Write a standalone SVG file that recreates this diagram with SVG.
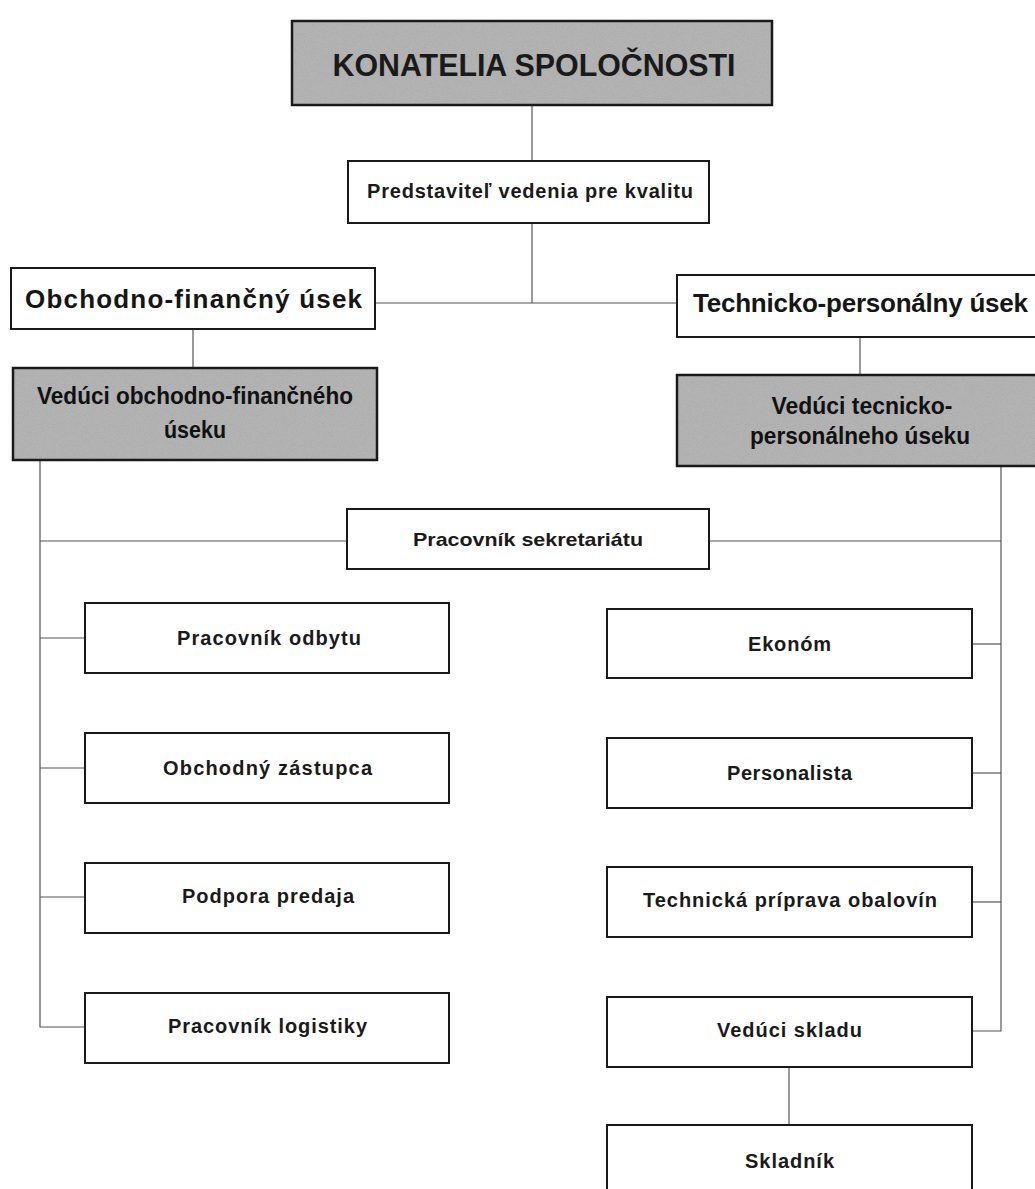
<svg xmlns="http://www.w3.org/2000/svg" width="1035" height="1189" viewBox="0 0 1035 1189">
<style>
.box{fill:#fff;stroke:#1a1a1a;stroke-width:2}
.gbox{fill:#b3b3b3;stroke:none}
.frame{fill:none;stroke:#1a1a1a;stroke-width:2.5}
.t{font-family:"Liberation Sans",Arial,sans-serif;font-weight:bold;fill:#1a1a1a;text-anchor:middle}
.big{font-family:"Liberation Sans",Arial,sans-serif;font-weight:bold;fill:#151515;font-size:26px;text-anchor:middle}
.cond{font-family:"Liberation Sans Narrow","Liberation Sans",Arial,sans-serif;font-weight:bold;fill:#111;font-size:24px;text-anchor:middle}
.s{font-size:20px}
.conn{fill:none;stroke:#555;stroke-width:1.2}
.noise{opacity:0.55}
</style>
<defs>
<filter id="grain" x="0" y="0" width="100%" height="100%">
<feTurbulence type="fractalNoise" baseFrequency="1.1" numOctaves="2" seed="7"/>
<feColorMatrix type="matrix" values="0 0 0 0 0.35  0 0 0 0 0.35  0 0 0 0 0.38  2.2 0 0 0 -1.0"/>
</filter>
</defs>
<rect width="1035" height="1189" fill="#fff"/>

<g id="connectors">
<line class="conn" x1="532" y1="105" x2="532" y2="161"/>
<line class="conn" x1="532" y1="223" x2="532" y2="303"/>
<line class="conn" x1="375" y1="303" x2="677" y2="303"/>
<line class="conn" x1="193" y1="329" x2="193" y2="368"/>
<line class="conn" x1="860" y1="337" x2="860" y2="375"/>
<polyline class="conn" points="40,460 40,1027 85,1027"/>
<line class="conn" x1="40" y1="541" x2="347" y2="541"/>
<line class="conn" x1="709" y1="541" x2="1001" y2="541"/>
<line class="conn" x1="40" y1="638" x2="85" y2="638"/>
<line class="conn" x1="40" y1="768" x2="85" y2="768"/>
<line class="conn" x1="40" y1="897" x2="85" y2="897"/>
<polyline class="conn" points="1001,466 1001,1031 972,1031"/>
<line class="conn" x1="972" y1="644" x2="1001" y2="644"/>
<line class="conn" x1="972" y1="773" x2="1001" y2="773"/>
<line class="conn" x1="972" y1="902" x2="1001" y2="902"/>
<line class="conn" x1="789" y1="1067" x2="789" y2="1125"/>
</g>

<g id="konatelia">
<rect class="gbox" x="292" y="21" width="480" height="84"/>
<rect class="noise" x="292" y="21" width="480" height="84" filter="url(#grain)"/>
<rect class="frame" x="292" y="21" width="480" height="84"/>
<text class="t" x="534" y="76" font-size="31" textLength="403" lengthAdjust="spacingAndGlyphs">KONATELIA SPOLOČNOSTI</text>
</g>

<g id="predstavitel">
<rect class="box" x="348" y="161" width="361" height="62"/>
<text class="t" x="530" y="198" font-size="20" textLength="326" lengthAdjust="spacing">Predstaviteľ vedenia pre kvalitu</text>
</g>

<g id="obchodno-financny">
<rect class="box" x="11" y="268" width="364" height="61"/>
<text class="big" x="193.5" y="308" textLength="337" lengthAdjust="spacing">Obchodno-finančný úsek</text>
</g>

<g id="technicko-personalny">
<rect class="box" x="677" y="275" width="370" height="62"/>
<text class="big" x="860.5" y="312" textLength="335" lengthAdjust="spacing">Technicko-personálny úsek</text>
</g>

<g id="veduci-of">
<rect class="gbox" x="13" y="368" width="364" height="92"/>
<rect class="noise" x="13" y="368" width="364" height="92" filter="url(#grain)"/>
<rect class="frame" x="13" y="368" width="364" height="92"/>
<text class="cond" x="195" y="404" textLength="316" lengthAdjust="spacingAndGlyphs">Vedúci obchodno-finančného</text>
<text class="cond" x="195" y="438" textLength="62" lengthAdjust="spacingAndGlyphs">úseku</text>
</g>

<g id="veduci-tp">
<rect class="gbox" x="677" y="375" width="370" height="91"/>
<rect class="noise" x="677" y="375" width="370" height="91" filter="url(#grain)"/>
<rect class="frame" x="677" y="375" width="370" height="91"/>
<text class="cond" x="862" y="414" textLength="181" lengthAdjust="spacingAndGlyphs">Vedúci tecnicko-</text>
<text class="cond" x="860" y="444" textLength="220" lengthAdjust="spacingAndGlyphs">personálneho úseku</text>
</g>

<g id="sekretariat">
<rect class="box" x="347" y="509" width="362" height="60"/>
<text class="t" x="528" y="546" font-size="19" textLength="230" lengthAdjust="spacingAndGlyphs">Pracovník sekretariátu</text>
</g>

<g id="odbyt">
<rect class="box" x="85" y="603" width="364" height="70"/>
<text class="t s" x="269" y="645" textLength="184" lengthAdjust="spacing">Pracovník odbytu</text>
</g>
<g id="zastupca">
<rect class="box" x="85" y="733" width="364" height="70"/>
<text class="t s" x="267.5" y="775" textLength="209" lengthAdjust="spacing">Obchodný zástupca</text>
</g>
<g id="podpora">
<rect class="box" x="85" y="863" width="364" height="70"/>
<text class="t s" x="268" y="903" textLength="172" lengthAdjust="spacing">Podpora predaja</text>
</g>
<g id="logistika">
<rect class="box" x="85" y="993" width="364" height="70"/>
<text class="t s" x="267.5" y="1033" textLength="199" lengthAdjust="spacing">Pracovník logistiky</text>
</g>

<g id="ekonom">
<rect class="box" x="607" y="609" width="365" height="69"/>
<text class="t s" x="789.5" y="651" textLength="83" lengthAdjust="spacing">Ekonóm</text>
</g>
<g id="personalista">
<rect class="box" x="607" y="738" width="365" height="70"/>
<text class="t s" x="789.5" y="780" textLength="125" lengthAdjust="spacing">Personalista</text>
</g>
<g id="technicka">
<rect class="box" x="607" y="867" width="365" height="70"/>
<text class="t s" x="790" y="907" textLength="294" lengthAdjust="spacing">Technická príprava obalovín</text>
</g>
<g id="veduci-skladu">
<rect class="box" x="607" y="997" width="365" height="70"/>
<text class="t s" x="789.5" y="1037" textLength="145" lengthAdjust="spacing">Vedúci skladu</text>
</g>
<g id="skladnik">
<rect class="box" x="607" y="1125" width="365" height="80"/>
<text class="t s" x="789.5" y="1168" textLength="89" lengthAdjust="spacing">Skladník</text>
</g>
</svg>
